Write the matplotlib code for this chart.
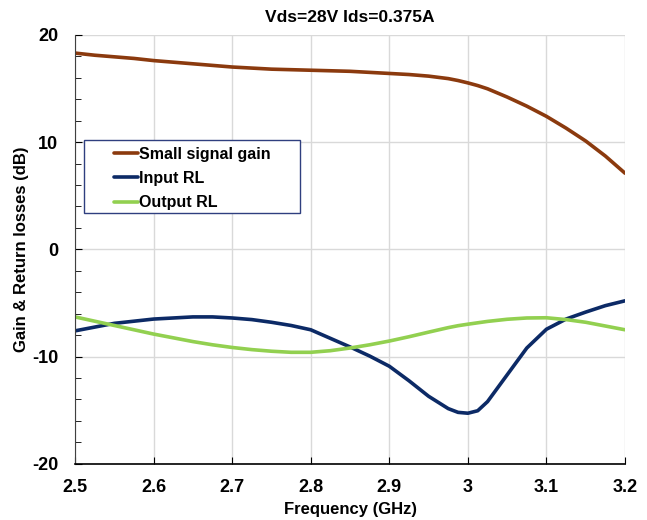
import matplotlib
matplotlib.use("Agg")
import matplotlib.pyplot as plt
from matplotlib.ticker import MultipleLocator
from matplotlib.patches import Rectangle

plt.rcParams['font.family'] = ['Liberation Sans', 'DejaVu Sans']
plt.rcParams['axes.unicode_minus'] = False

freq = [2.5, 2.525, 2.55, 2.575, 2.6, 2.625, 2.65, 2.675, 2.7, 2.725, 2.75, 2.775,
        2.8, 2.825, 2.85, 2.875, 2.9, 2.925, 2.95, 2.975, 2.9875, 3.0, 3.0125, 3.025,
        3.05, 3.075, 3.1, 3.125, 3.15, 3.175, 3.2]
gain = [18.3, 18.1, 17.95, 17.8, 17.6, 17.45, 17.3, 17.15, 17.0, 16.9, 16.8, 16.75,
        16.7, 16.65, 16.6, 16.5, 16.4, 16.3, 16.15, 15.92, 15.74, 15.52, 15.27, 14.97,
        14.2, 13.35, 12.4, 11.3, 10.1, 8.7, 7.1]
input_rl = [-7.6, -7.25, -6.9, -6.7, -6.5, -6.4, -6.3, -6.3, -6.4, -6.55, -6.8, -7.1,
            -7.5, -8.3, -9.1, -9.95, -10.9, -12.25, -13.7, -14.85, -15.2, -15.28,
            -15.05, -14.2, -11.7, -9.2, -7.45, -6.5, -5.85, -5.25, -4.8]
output_rl = [-6.3, -6.7, -7.1, -7.5, -7.9, -8.25, -8.6, -8.9, -9.15, -9.35, -9.5, -9.6,
             -9.6, -9.45, -9.2, -8.9, -8.55, -8.15, -7.72, -7.3, -7.12, -6.98, -6.85,
             -6.72, -6.52, -6.4, -6.38, -6.55, -6.8, -7.15, -7.5]

fig = plt.figure(figsize=(6.47, 5.2), dpi=100)
ax = fig.add_axes([0.116, 0.108, 0.85, 0.825])

kw = dict(lw=2.6, solid_capstyle='round', solid_joinstyle='round')
ax.plot(freq, gain, color='#8B3A0E', label='Small signal gain', **kw)
ax.plot(freq, input_rl, color='#0C2A66', label='Input RL', **kw)
ax.plot(freq, output_rl, color='#92D050', label='Output RL', **kw)

ax.set_xlim(2.5, 3.2)
ax.set_ylim(-20, 20)
ax.yaxis.set_major_locator(MultipleLocator(10))
ax.yaxis.set_minor_locator(MultipleLocator(2))
ax.set_xticks([2.5, 2.6, 2.7, 2.8, 2.9, 3.0, 3.1, 3.2])
ax.set_xticklabels(['2.5', '2.6', '2.7', '2.8', '2.9', '3', '3.1', '3.2'])

ax.grid(True, which='major', color='#D9D9D9', lw=1)
ax.set_axisbelow(True)
for s in ['top', 'right']:
    ax.spines[s].set_visible(False)
ax.spines['left'].set_color('#404040')
ax.spines['bottom'].set_color('black')
ax.spines['bottom'].set_linewidth(1.2)

ax.tick_params(axis='both', which='both', direction='in', labelsize=13)
ax.tick_params(axis='x', length=5, pad=11)
ax.tick_params(axis='y', which='major', length=5, pad=12)
ax.tick_params(axis='y', which='minor', length=4)
for lbl in ax.get_xticklabels() + ax.get_yticklabels():
    lbl.set_fontweight('bold')

ax.set_title('Vds=28V Ids=0.375A', fontsize=12.5, fontweight='bold', pad=9)
ax.set_xlabel('Frequency (GHz)', fontsize=12, fontweight='bold', labelpad=4)
ax.set_ylabel('Gain & Return losses (dB)', fontsize=12, fontweight='bold', labelpad=2)

ax.add_patch(Rectangle((0.016, 0.585), 0.393, 0.17, transform=ax.transAxes,
                       facecolor='white', edgecolor='#2F3F7F', lw=1, zorder=4))
leg = ax.legend(loc='upper left', bbox_to_anchor=(0.07, 0.739), frameon=False,
                handlelength=1.5, handletextpad=0.1, borderpad=0, borderaxespad=0,
                labelspacing=0.58, prop={'weight': 'bold', 'size': 11.5})
leg.set_zorder(5)

fig.savefig('out.png', dpi=100)
